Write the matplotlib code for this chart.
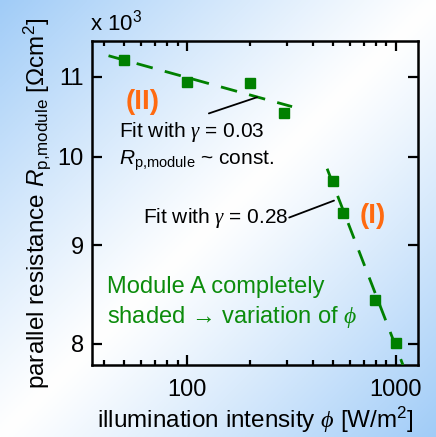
import numpy as np
import matplotlib
matplotlib.use("Agg")
import matplotlib.pyplot as plt
from matplotlib.ticker import FixedLocator, FixedFormatter, NullLocator, LogLocator, NullFormatter

plt.rcParams['font.family'] = ['Liberation Sans', 'DejaVu Sans']
plt.rcParams['mathtext.fontset'] = 'custom'
plt.rcParams['mathtext.rm'] = 'Liberation Sans'
plt.rcParams['mathtext.it'] = 'Liberation Sans:italic'
plt.rcParams['mathtext.sf'] = 'Liberation Serif:italic'

# ---- data ----
phi_II = [50, 100, 200, 290]
R_II = [11220, 10935, 10920, 10530]
phi_I = [500, 555, 795, 1000]
R_I = [9720, 9355, 8425, 8010]

# power-law fits R = R0 * (phi/phi0)^(-gamma)
fit_II_gamma = 0.03
fit_II_phi = [42, 318]
fit_II_R0 = 11280
fit_I_gamma = 0.28
fit_I_phi = [468, 1080]
fit_I_R0 = 9858

y_ticks = [8000, 9000, 10000, 11000]
y_ticklabels = ['8', '9', '10', '11']
x_ticks = [100, 1000]
x_ticklabels = ['100', '1000']

green = '#008000'
green_txt = '#0c8c0c'
orange = '#ff6a10'

fig = plt.figure(figsize=(4.36, 4.37), dpi=100)

# background gradient
bg = fig.add_axes([0, 0, 1, 1], zorder=-10)
xx, yy = np.meshgrid(np.linspace(0, 1, 200), np.linspace(0, 1, 200))
s = np.clip(np.abs(xx + yy - 1.0), 0, 1)
s = s ** 1.1
blue = np.array([0.63, 0.80, 0.97])
img = (1 - s[..., None]) * np.array([1, 1, 1]) + s[..., None] * blue
bg.imshow(img, extent=[0, 1, 0, 1], aspect='auto', origin='upper')
bg.axis('off')

ax = fig.add_axes([92/436, 1-365/437, 326/436, 324/437])
ax.set_facecolor('none')
ax.set_xscale('log')
ax.set_yscale('log')
ax.set_xlim(35, 1275)
ax.set_ylim(7800, 11480)

# fits
def powerlaw(phi_rng, R0, gamma):
    p = np.logspace(np.log10(phi_rng[0]), np.log10(phi_rng[1]), 50)
    return p, R0 * (p / phi_rng[0]) ** (-gamma)

p2, r2 = powerlaw(fit_II_phi, fit_II_R0, fit_II_gamma)
p1, r1 = powerlaw(fit_I_phi, fit_I_R0, fit_I_gamma)
ax.plot(p2, r2, color=green, lw=2.0, dashes=(6, 4.5), zorder=3, clip_on=False)
ax.plot(p1, r1, color=green, lw=2.0, dashes=(6, 4.5), zorder=3, clip_on=True)

ax.plot(phi_II, R_II, 's', color=green, ms=7.5, zorder=4, clip_on=False)
ax.plot(phi_I, R_I, 's', color=green, ms=7.5, zorder=4, clip_on=False)

# ticks
ax.yaxis.set_major_locator(FixedLocator(y_ticks))
ax.yaxis.set_major_formatter(FixedFormatter(y_ticklabels))
ax.yaxis.set_minor_locator(NullLocator())
ax.yaxis.set_minor_formatter(NullFormatter())
ax.xaxis.set_major_locator(FixedLocator(x_ticks))
ax.xaxis.set_major_formatter(FixedFormatter(x_ticklabels))
ax.xaxis.set_minor_locator(LogLocator(base=10, subs=np.arange(2, 10)))
ax.xaxis.set_minor_formatter(NullFormatter())
ax.tick_params(which='both', direction='in', top=True, right=True, width=1.6, color='black')
ax.tick_params(which='major', length=7, labelsize=17)
ax.tick_params(which='minor', length=3.8)
ax.tick_params(axis='x', which='major', pad=10)
ax.tick_params(axis='y', which='major', pad=6)
for sp in ax.spines.values():
    sp.set_linewidth(1.8)

ax.set_xlabel(r'illumination intensity $\mathsf{\phi}$ [W/m$^2$]', fontsize=17.5)
ax.xaxis.label.set_va('baseline')
ax.xaxis.set_label_coords(0.5, (365 - 428) / 324)
ax.set_ylabel(r'parallel resistance $R_{\mathrm{p{,}module}}$ [$\Omega$cm$^2$]', fontsize=17.5, labelpad=3)

fig.text(90/436, 1-30/437, r'x 10$^3$', fontsize=16, ha='left', va='baseline')

# annotations
ax.text(0.156, 0.812, '(II)', transform=ax.transAxes, color=orange, fontsize=20,
        fontweight='bold', ha='center', va='center')
ax.text(0.083, 0.704, r'Fit with $\mathsf{\gamma}$ = 0.03', transform=ax.transAxes,
        fontsize=15, ha='left', va='baseline')
ax.text(0.083, 0.617, r'$R_{\mathrm{p{,}module}}$ ~ const.', transform=ax.transAxes,
        fontsize=15, ha='left', va='baseline')
ax.text(0.156, 0.438, r'Fit with $\mathsf{\gamma}$ = 0.28', transform=ax.transAxes,
        fontsize=15, ha='left', va='baseline')
ax.text(0.862, 0.46, '(I)', transform=ax.transAxes, color=orange, fontsize=20,
        fontweight='bold', ha='center', va='center')
ax.text(0.046, 0.222, 'Module A completely', transform=ax.transAxes, color=green_txt,
        fontsize=17, ha='left', va='baseline')
ax.text(0.046, 0.130, r'shaded → variation of $\mathsf{\phi}$', transform=ax.transAxes,
        color=green_txt, fontsize=17, ha='left', va='baseline')

# connector lines
ax.annotate('', xy=(216, 10735), xytext=(127, 10530),
            arrowprops=dict(arrowstyle='-', lw=1.3, color='black', shrinkA=0, shrinkB=0))
ax.annotate('', xy=(505, 9490), xytext=(308, 9300),
            arrowprops=dict(arrowstyle='-', lw=1.3, color='black', shrinkA=0, shrinkB=0))

fig.savefig('out.png', dpi=100)
